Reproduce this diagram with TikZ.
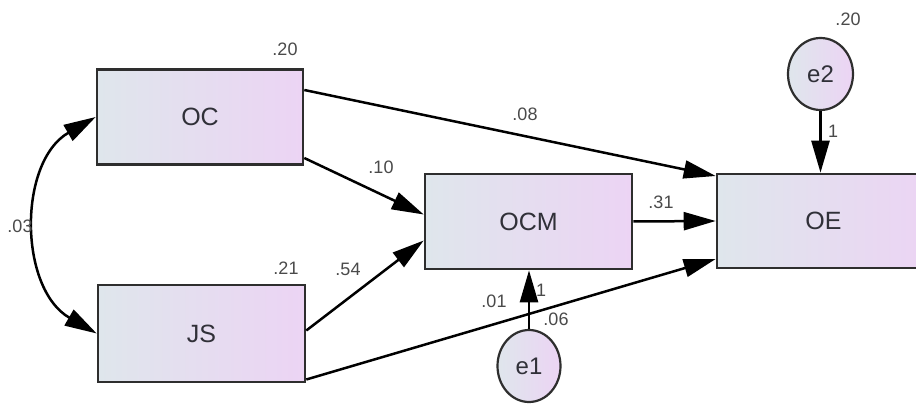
\documentclass[tikz,border=0pt]{standalone}
\usepackage{fontspec}
\setmainfont{Liberation Sans}
\usetikzlibrary{arrows.meta,shapes.geometric}
\definecolor{boxL}{HTML}{DFE6EC}
\definecolor{boxR}{HTML}{ECD4F4}
\definecolor{edgeC}{HTML}{2E2E2E}
\definecolor{txtC}{HTML}{303038}
\definecolor{lblC}{HTML}{4A4A4A}
\tikzset{
  var/.style={draw=edgeC, line width=2.6pt, left color=boxL, right color=boxR,
    minimum height=95pt, inner sep=0pt, text=txtC, font=\fontsize{25}{28}\selectfont},
  err/.style={ellipse, draw=edgeC, line width=2.2pt, left color=boxL, right color=boxR,
    minimum width=63pt, minimum height=72pt, inner sep=0pt, text=txtC, font=\fontsize{24}{27}\selectfont},
  path/.style={draw=black, line width=2.5pt, -{Triangle[length=32pt,width=18pt]}},
  cov/.style={draw=black, line width=2.5pt, {Triangle[length=32pt,width=18pt]}-{Triangle[length=32pt,width=18pt]}},
  lbl/.style={text=lblC, inner sep=0pt, font=\fontsize{18}{20}\selectfont}
}
\begin{document}
\begin{tikzpicture}[x=1pt,y=-1pt]
\useasboundingbox (0,0) rectangle (916,406);
\clip (0,0) rectangle (916,406);
\fill[white] (0,0) rectangle (916,406);
% boxes
\node[var, minimum width=206pt] (OC) at (200,117) {OC};
\node[var, minimum width=207pt, minimum height=97pt] (JS) at (201.5,333.5) {JS};
\node[var, minimum width=207pt] (OCM) at (528.5,221.5) {OCM};
\node[var, minimum width=213pt, minimum height=94pt] (OE) at (823.5,221) {OE};
% error terms
\node[err] (e1) at (529,366) {e1};
\node[err, minimum width=65pt] (e2) at (820.5,74) {e2};
% paths
\draw[path] ([yshift=27pt]OC.east) -- ([yshift=45pt]OE.west);
\draw[path] ([yshift=-41pt]OC.east) -- ([yshift=7pt]OCM.west);
\draw[path] ([yshift=3pt]JS.east) -- ([yshift=-19pt]OCM.west);
\draw[path] ([yshift=-46pt]JS.east) -- ([yshift=-38pt]OE.west);
\draw[path] (OCM.east) -- (OE.west);
\draw[path] (e1.north) -- (e1.north |- OCM.south);
\draw[path] (e2.south) -- (e2.south |- OE.north);
\draw[cov] (OC.west) .. controls +(-78,45) and +(-78,-45) .. (JS.west);
% labels
\node[lbl] (lOC) at (285,49) {.20};
\node[lbl] (lJS) at (286,268) {.21};
\node[lbl] (le2) at (848,19) {.20};
\node[lbl] (l1b) at (833,131) {1};
\node[lbl] (l08) at (525,114) {.08};
\node[lbl] (l10) at (381,167) {.10};
\node[lbl] (l54) at (348,269) {.54};
\node[lbl] (l31) at (661,202) {.31};
\node[lbl] (l01) at (494,301) {.01};
\node[lbl] (l1a) at (541,290) {1};
\node[lbl] (l06) at (556,319) {.06};
\node[lbl] (l03) at (20,226) {.03};
\end{tikzpicture}
\end{document}
